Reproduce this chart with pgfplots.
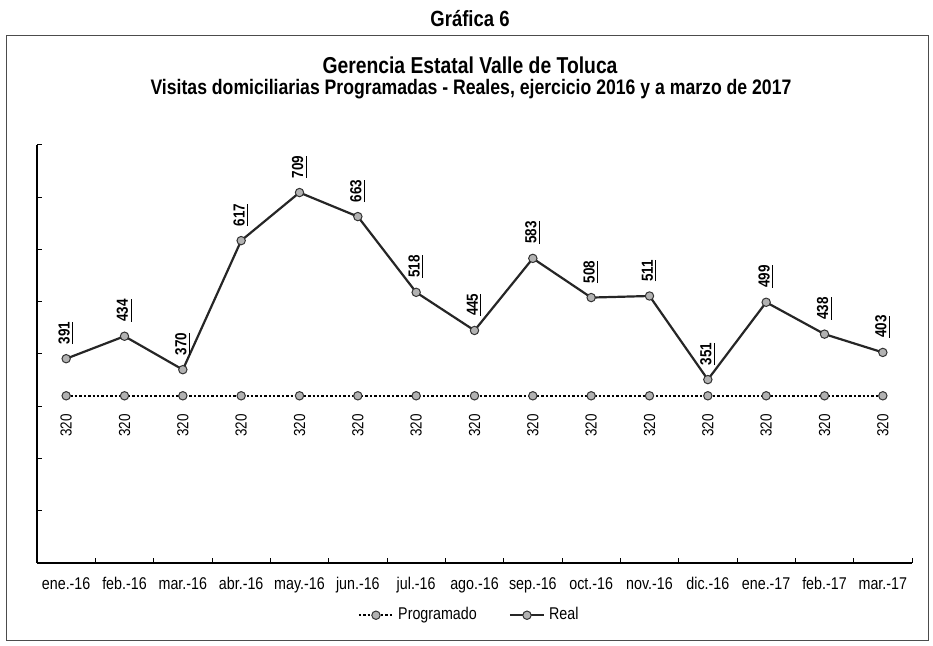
\documentclass[border=0pt]{standalone}
\usepackage{fontspec}
\setmainfont{Liberation Sans}[FakeStretch=0.84]
\usepackage{pgfplots}
\pgfplotsset{compat=1.18}

% values, x = month index 0..14
\pgfplotstableread{
x real prog
0 391 320
1 434 320
2 370 320
3 617 320
4 709 320
5 663 320
6 518 320
7 445 320
8 583 320
9 508 320
10 511 320
11 351 320
12 499 320
13 438 320
14 403 320
}\visitas

\begin{document}
\begin{tikzpicture}
\path[use as bounding box] (0,0) rectangle (466.5pt,323pt);
% outer frame
\draw[black!70, line width=0.5pt] (3pt,2.5pt) rectangle (464pt,305pt);
\node[font=\fontsize{11}{13}\selectfont\bfseries] at (235pt,313.5pt) {Gráfica 6};
\node[inner sep=0.5pt, font=\fontsize{11.5}{13}\selectfont\bfseries] at (235pt,290.5pt) {Gerencia Estatal Valle de Toluca};
\node[inner sep=0.5pt, font=\fontsize{10.5}{12}\selectfont\bfseries] at (235.5pt,278.5pt) {Visitas domiciliarias Programadas - Reales, ejercicio 2016 y a marzo de 2017};

\begin{axis}[
    at={(18.5pt,41.5pt)}, anchor=south west,
    scale only axis,
    width=437.5pt, height=209pt,
    xmin=-0.5, xmax=14.5,
    ymin=0, ymax=800,
    axis lines*=left,
    axis line style={black, line width=0.6pt},
    tick align=inside,
    xtick={0,...,14},
    xticklabels={ene.-16,feb.-16,mar.-16,abr.-16,may.-16,jun.-16,jul.-16,ago.-16,sep.-16,oct.-16,nov.-16,dic.-16,ene.-17,feb.-17,mar.-17},
    major x tick style={draw=none},
    minor xtick={-0.5,0.5,...,14.5},
    minor tick length=2.5pt,
    ytick={0,100,...,800},
    yticklabels={},
    major tick length=2.5pt,
    tick style={black, line width=0.5pt},
    x tick label style={font=\fontsize{8.5}{10}\selectfont, yshift=-1.5pt,
        text height=1.6ex, text depth=0.4ex},
    legend style={at={(0.495,-0.125)}, anchor=center, draw=none, fill=none,
        legend columns=2, font=\fontsize{8.5}{10}\selectfont,
        /tikz/every even column/.append style={column sep=14pt}},
]
\addplot[black, line width=1.2pt, densely dotted, mark=*, mark size=2.1pt,
    mark options={solid, fill=gray!60, draw=black!80, line width=0.5pt},
    nodes near coords={\pgfmathprintnumber[assume math mode=true]{\pgfplotspointmeta}},
    point meta=explicit,
    every node near coord/.append style={rotate=90, anchor=east, inner xsep=9pt,
        font=\fontsize{8}{10}\selectfont, black}]
    table[x=x, y=prog, meta=prog] {\visitas};
\addlegendentry{Programado}
\addplot[black!85, line width=1.1pt, mark=*, mark size=2.1pt,
    mark options={solid, fill=gray!60, draw=black!80, line width=0.5pt},
    nodes near coords={\underline{\pgfmathprintnumber[assume math mode=true]{\pgfplotspointmeta}}},
    point meta=explicit,
    every node near coord/.append style={rotate=90, anchor=west, inner xsep=7pt,
        font=\fontsize{8}{10}\selectfont\bfseries, black}]
    table[x=x, y=real, meta=real] {\visitas};
\addlegendentry{Real}
\end{axis}
\end{tikzpicture}
\end{document}
